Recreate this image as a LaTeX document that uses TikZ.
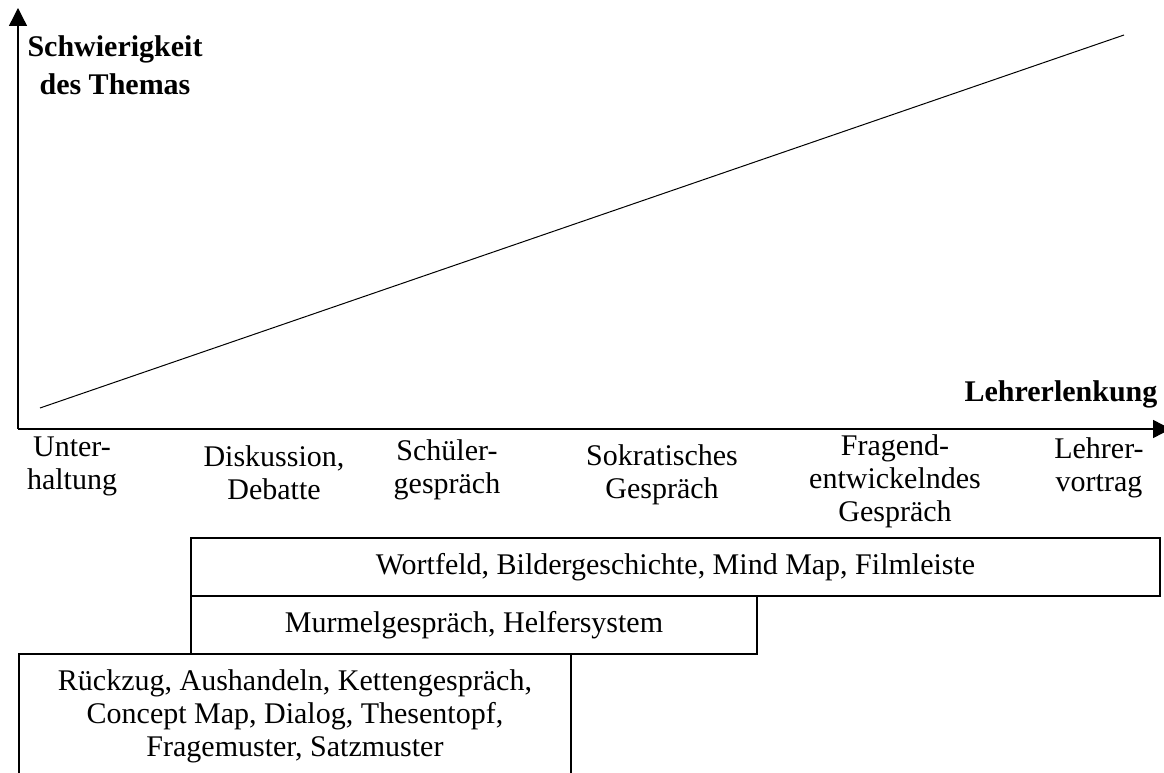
\documentclass[tikz,border=0pt]{standalone}
\usepackage{fontspec}
\setmainfont{Liberation Serif}
\usetikzlibrary{arrows.meta}
\begin{document}
\begin{tikzpicture}[x=0.75pt,y=-0.75pt,
  lbl/.style={font=\fontsize{22.5}{24.75}\selectfont, align=center, inner sep=0pt},
  blbl/.style={lbl, font=\bfseries\fontsize{22.5}{28.5}\selectfont},
  axis/.style={line width=1pt, -{Triangle[width=13.5pt,length=13.5pt]}},
  boxline/.style={draw, line width=0.9pt}]
\useasboundingbox (0,0) rectangle (1164,773);
% axes
\coordinate (O) at (18,429);
\coordinate (ytip) at (18,8);
\coordinate (xtip) at (1171,429);
\draw[axis] (O) -- (ytip);
\draw[axis] (O) -- (xtip);
% diagonal
\coordinate (d0) at (40,408);
\coordinate (d1) at (1124,35);
\draw[line width=0.75pt] (d0) -- (d1);
% axis labels
\node[blbl] (ylab) at (115,65) {Schwierigkeit\\des Themas};
\node[blbl] (xlab) at (1061,394) {Lehrerlenkung};
% column labels
\node[lbl] (c1) at (72,466) {Unter-\\haltung};
\node[lbl] (c2) at (274,473) {Diskussion,\\Debatte};
\node[lbl] (c3) at (447,470) {Schüler-\\gespräch};
\node[lbl] (c4) at (662,475) {Sokratisches\\Gespräch};
\node[lbl] (c5) at (895,481) {Fragend-\\entwickelndes\\Gespräch};
\node[lbl] (c6) at (1099,468) {Lehrer-\\vortrag};
% boxes
\draw[boxline] (191,538) rectangle (1160,596);
\node[lbl] (b1) at (675.5,567) {Wortfeld, Bildergeschichte, Mind Map, Filmleiste};
\draw[boxline] (191,596) rectangle (757,654);
\node[lbl] (b2) at (474,625) {Murmelgespräch, Helfersystem};
\draw[boxline] (19,654) rectangle (571,800);
\node[lbl] (b3) at (295,716) {Rückzug, Aushandeln, Kettengespräch,\\Concept Map, Dialog, Thesentopf,\\Fragemuster, Satzmuster};
\end{tikzpicture}
\end{document}
